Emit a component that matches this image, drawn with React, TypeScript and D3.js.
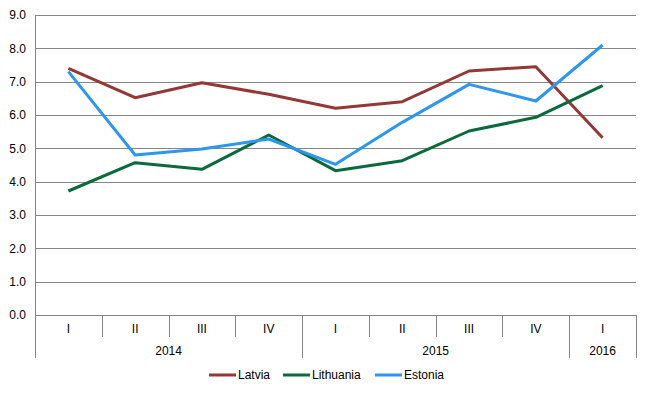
import { useRef, useEffect } from "react";
import * as d3 from "d3";

// quarters and the year groups they belong to
const quarters = ["I", "II", "III", "IV", "I", "II", "III", "IV", "I"];
const years = [
  { label: "2014", start: 0, end: 4 },
  { label: "2015", start: 4, end: 8 },
  { label: "2016", start: 8, end: 9 },
];

const latvia = [7.4, 6.52, 6.97, 6.62, 6.2, 6.4, 7.32, 7.45, 5.32];
const lithuania = [3.72, 4.57, 4.37, 5.4, 4.33, 4.63, 5.52, 5.93, 6.88];
const estonia = [7.3, 4.8, 4.98, 5.28, 4.52, 5.78, 6.92, 6.42, 8.1];

const yTicks = [0, 1, 2, 3, 4, 5, 6, 7, 8, 9];

const series = [
  { name: "Latvia", values: latvia, color: "#953735" },
  { name: "Lithuania", values: lithuania, color: "#0a6a3c" },
  { name: "Estonia", values: estonia, color: "#2d96ee" },
];

const App = () => {
  const svgRef = useRef<SVGSVGElement | null>(null);

  useEffect(() => {
    const width = 650;
    const height = 394;
    const margin = { top: 15, right: 14, left: 35, bottom: 79 };
    const font = "'Liberation Sans', Arial, sans-serif";
    const fs = 12;

    const svg = d3.select(svgRef.current)
      .attr("width", width)
      .attr("height", height)
      .style("display", "block")
      .style("background", "#fff");
    svg.selectAll("*").remove();

    const x = d3.scaleBand<number>()
      .domain(quarters.map((_, i) => i))
      .range([margin.left, width - margin.right]);

    const y = d3.scaleLinear()
      .domain([0, 9])
      .range([height - margin.bottom, margin.top]);

    const x0 = margin.left;
    const x1 = width - margin.right;
    const yBase = y(0);

    // gridlines
    svg.append("g")
      .selectAll("line")
      .data(yTicks)
      .join("line")
      .attr("x1", x0)
      .attr("x2", x1)
      .attr("y1", d => Math.round(y(d)) + 0.5)
      .attr("y2", d => Math.round(y(d)) + 0.5)
      .attr("stroke", "#868686")
      .attr("stroke-width", 1);

    // y labels
    svg.append("g")
      .selectAll("text")
      .data(yTicks)
      .join("text")
      .attr("x", x0 - 9)
      .attr("y", d => y(d))
      .attr("dy", "0.35em")
      .attr("text-anchor", "end")
      .attr("font-family", font)
      .attr("font-size", fs)
      .attr("fill", "#000")
      .text(d => d.toFixed(1));

    // left axis line
    svg.append("line")
      .attr("x1", x0 + 0.5).attr("x2", x0 + 0.5)
      .attr("y1", margin.top).attr("y2", yBase)
      .attr("stroke", "#868686");

    // quarter separators
    const axisG = svg.append("g");
    axisG.selectAll("line.q")
      .data(d3.range(1, quarters.length))
      .join("line")
      .attr("class", "q")
      .attr("x1", i => Math.round(x(i) as number) + 0.5)
      .attr("x2", i => Math.round(x(i) as number) + 0.5)
      .attr("y1", yBase)
      .attr("y2", yBase + 22)
      .attr("stroke", "#868686");

    // year separators
    const yearBounds = [0, ...years.map(g => g.end)];
    axisG.selectAll("line.yr")
      .data(yearBounds)
      .join("line")
      .attr("class", "yr")
      .attr("x1", i => Math.round(i < quarters.length ? (x(i) as number) : x1) + 0.5)
      .attr("x2", i => Math.round(i < quarters.length ? (x(i) as number) : x1) + 0.5)
      .attr("y1", yBase)
      .attr("y2", yBase + 43)
      .attr("stroke", "#868686");

    axisG.selectAll("text.q")
      .data(quarters)
      .join("text")
      .attr("class", "q")
      .attr("x", (_, i) => (x(i) as number) + x.bandwidth() / 2)
      .attr("y", yBase + 14)
      .attr("dy", "0.35em")
      .attr("text-anchor", "middle")
      .attr("font-family", font)
      .attr("font-size", fs)
      .text(d => d);

    axisG.selectAll("text.yr")
      .data(years)
      .join("text")
      .attr("class", "yr")
      .attr("x", g => ((x(g.start) as number) + (g.end < quarters.length ? (x(g.end) as number) : x1)) / 2)
      .attr("y", yBase + 36)
      .attr("dy", "0.35em")
      .attr("text-anchor", "middle")
      .attr("font-family", font)
      .attr("font-size", fs)
      .text(g => g.label);

    // lines
    const line = d3.line<number>()
      .x((_, i) => (x(i) as number) + x.bandwidth() / 2)
      .y(d => y(d));

    svg.append("g")
      .selectAll("path")
      .data(series)
      .join("path")
      .attr("d", s => line(s.values))
      .attr("fill", "none")
      .attr("stroke", s => s.color)
      .attr("stroke-width", 3)
      .attr("stroke-linejoin", "round");

    // legend
    const legendX = [209, 283, 375];
    const legendY = 375;
    const lg = svg.append("g")
      .selectAll("g")
      .data(series)
      .join("g")
      .attr("transform", (_, i) => `translate(${legendX[i]},${legendY})`);
    lg.append("line")
      .attr("x1", 0).attr("x2", 27)
      .attr("stroke", s => s.color)
      .attr("stroke-width", 3);
    lg.append("text")
      .attr("x", 29)
      .attr("dy", "0.35em")
      .attr("font-family", font)
      .attr("font-size", fs)
      .text(s => s.name);
  }, []);

  return <svg ref={svgRef} style={{ position: "absolute", left: 0, top: 0 }} />;
};

export default App;
